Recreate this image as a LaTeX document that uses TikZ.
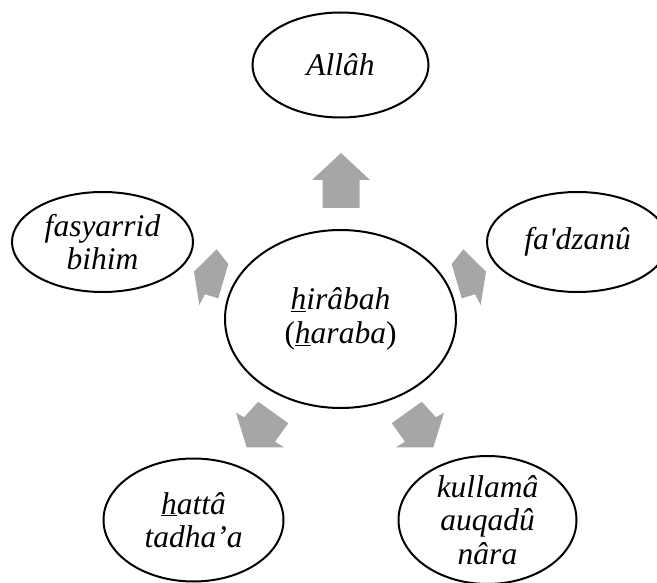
\documentclass[tikz,border=0pt]{standalone}
\usepackage{fontspec}
\setmainfont{Liberation Serif}[ItalicFont={Liberation Serif Italic}]
\usetikzlibrary{shapes.geometric,positioning}

\definecolor{arrowgray}{RGB}{166,166,166}

\tikzset{
  bubble/.style={ellipse,draw,line width=2pt,inner sep=0pt,align=center,
    font=\fontsize{31.5}{33.5}\selectfont\itshape},
  blockarrow/.style={fill=arrowgray}
}

\begin{document}
\begin{tikzpicture}[x=1pt,y=-1pt,on grid]
  \clip (0,0) rectangle (657,583);

  \node[bubble,minimum width=231pt,minimum height=178pt] (hub) at (340.5,319)
    {\underline{h}irâbah\\\textup{(}\underline{h}araba\textup{)}};
  \node[bubble,minimum width=176pt,minimum height=105pt,above=254pt of hub] (allah) {Allâh};
  \node[bubble,minimum width=181pt,minimum height=100pt,above left=77pt and 238pt of hub] (fasy) {fasyarrid\\bihim};
  \node[bubble,minimum width=181pt,minimum height=100pt,above right=77pt and 237pt of hub] (fadz) {fa\textquotesingle dzanû};
  \node[bubble,minimum width=180pt,minimum height=123pt,below left=201pt and 147pt of hub] (hatta) {\underline{h}attâ\\tadha’a};
  \node[bubble,minimum width=178pt,minimum height=128pt,below right=201pt and 147pt of hub] (kull) {kullamâ\\auqadû\\nâra};

  % block arrows out of the hub
  \fill[blockarrow] (341,153) -- (370,180) -- (359.5,180) -- (359.5,208) -- (322.5,208) -- (322.5,180) -- (312,180) -- cycle;
  \fill[blockarrow] (216.7,249.3) -- (228.3,264) -- (218.3,298.3) -- (205,294.3) -- (199.3,305) -- (194,271.7) -- cycle;
  \fill[blockarrow] (463.3,249.3) -- (451.7,264) -- (461.7,298.3) -- (475,294.3) -- (480.7,305) -- (486,271.7) -- cycle;
  \fill[blockarrow] (258.3,401.7) -- (288.3,423.3) -- (275,441.7) -- (284,447.3) -- (246.7,447.3) -- (236,412.7) -- (244,417.3) -- cycle;
  \fill[blockarrow] (421.7,401.7) -- (391.7,423.3) -- (405,441.7) -- (396,447.3) -- (433.3,447.3) -- (444,412.7) -- (436,417.3) -- cycle;
\end{tikzpicture}
\end{document}
